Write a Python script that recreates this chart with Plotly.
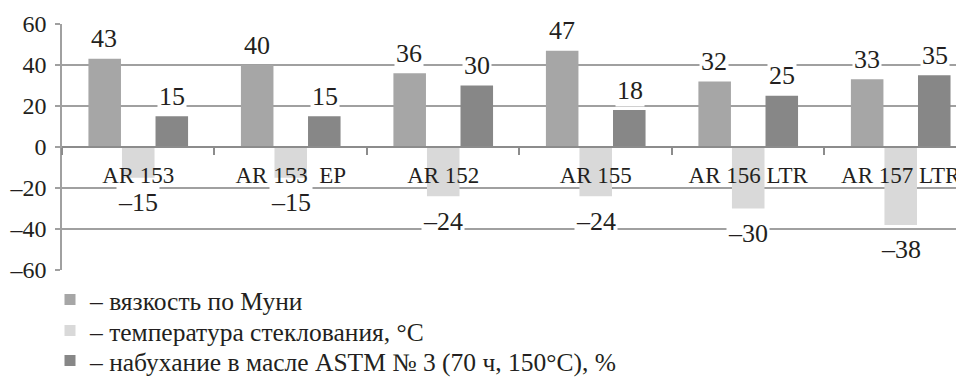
import plotly.graph_objects as go

categories = ["AR 153", "AR 153  EP", "AR 152", "AR 155", "AR 156 LTR", "AR 157 LTR"]
mooney = [43, 40, 36, 47, 32, 33]
tg = [-15, -15, -24, -24, -30, -38]
swelling = [15, 15, 30, 18, 25, 35]
series_names = ["– вязкость по Муни", "– температура стеклования, °C",
                "– набухание в масле ASTM № 3 (70 ч, 150°C), %"]
y_ticks = [-60, -40, -20, 0, 20, 40, 60]
y_tick_text = ["–60", "–40", "–20", "0", "20", "40", "60"]

colors = ["#a6a6a6", "#d9d9d9", "#878787"]
FONT = "Liberation Serif, Times New Roman, serif"
TXT = "#231f20"
# the page body has an 8px margin, so the figure is sized to the visible area
OFF = 8
W, H = 964 - OFF, 378 - OFF
ML, MR, MT = 62 - OFF, 0, 24 - OFF
MB = H - (270 - OFF)
PW, PH = W - ML - MR, H - MT - MB

legend_ids = ["legend", "legend2", "legend3"]
legend_rows = [300, 331, 361]  # row centres in page pixels

fig = go.Figure()
for vals, col in zip([mooney, tg, swelling], colors):
    fig.add_trace(go.Bar(x=categories, y=vals, marker=dict(color=col, line=dict(width=0)),
                         showlegend=False, hoverinfo="x+y"))
for name, col, lid in zip(series_names, colors, legend_ids):
    fig.add_trace(go.Scatter(x=[None], y=[None], mode="markers", name=name, legend=lid,
                             marker=dict(symbol="square", size=11, color=col)))

# data labels
offsets = [-34, 0, 34]
for vals, dx in zip([mooney, tg, swelling], offsets):
    for c, v in zip(categories, vals):
        fig.add_annotation(x=c, y=v, xshift=dx, yshift=20 if v > 0 else -25,
                           text=str(v).replace("-", "–"), showarrow=False,
                           bgcolor="white", borderpad=1,
                           font=dict(family=FONT, size=26, color=TXT))

def legend_cfg(row_y):
    return dict(x=(50 - OFF - ML) / PW, y=-(row_y - OFF - (H - MB)) / PH,
                xanchor="left", yanchor="middle",
                font=dict(family=FONT, size=25.5, color=TXT),
                itemwidth=30, tracegroupgap=0, bgcolor="rgba(0,0,0,0)")

fig.update_layout(
    width=W, height=H,
    margin=dict(l=ML, r=MR, t=MT, b=MB, autoexpand=False),
    paper_bgcolor="white", plot_bgcolor="white",
    barmode="group", bargap=0.34, bargroupgap=0.03,
    font=dict(family=FONT, color=TXT),
    legend=legend_cfg(legend_rows[0]),
    legend2=legend_cfg(legend_rows[1]),
    legend3=legend_cfg(legend_rows[2]),
    xaxis=dict(type="category", range=[-0.5, 5.415], anchor="free", position=0.5,
               automargin=False, tickangle=0,
               showline=True, linecolor="#8c8c8c", linewidth=2,
               ticks="outside", tickson="boundaries", ticklen=7, tickcolor="#8c8c8c",
               tickwidth=1.5, showgrid=False, ticklabelstandoff=7,
               tickfont=dict(family=FONT, size=23, color=TXT)),
    yaxis=dict(range=[-60, 60], tickvals=y_ticks, ticktext=y_tick_text,
               automargin=False,
               showgrid=True, gridcolor="#a0a0a0", gridwidth=1.5,
               zeroline=False, showline=True, linecolor="#a0a0a0", linewidth=1.5,
               ticks="outside", ticklen=5, tickcolor="#a0a0a0", tickwidth=1.5,
               ticklabelstandoff=4,
               tickfont=dict(family=FONT, size=24, color=TXT)),
)

fig.write_html("out.html")
